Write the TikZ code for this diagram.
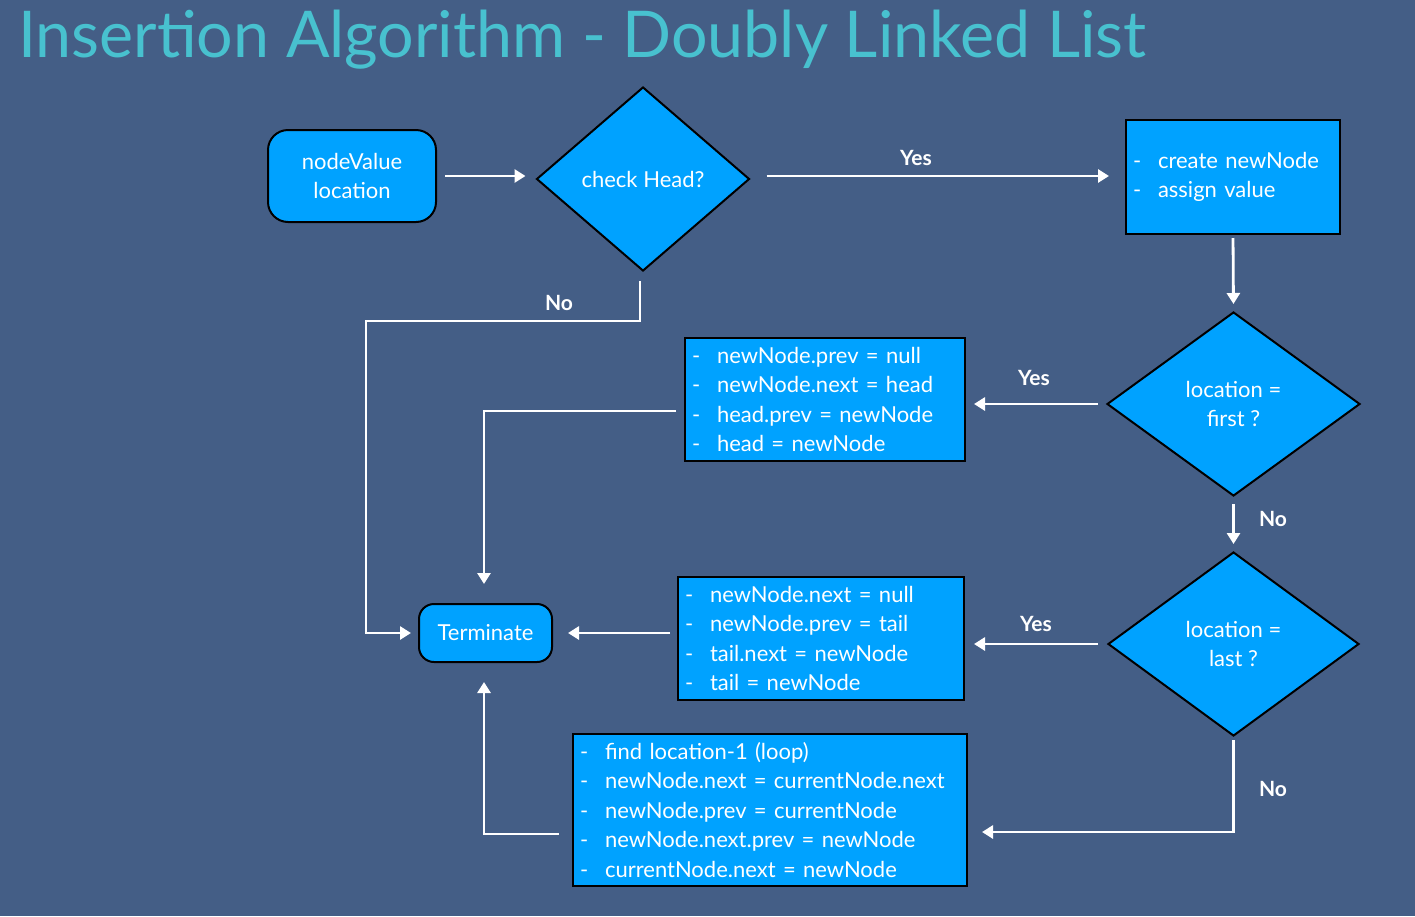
\documentclass[tikz,border=0pt]{standalone}
\usepackage{fontspec}
\setmainfont{Lato}
\usetikzlibrary{shapes.geometric,arrows.meta}
\definecolor{bg}{RGB}{68,94,134}
\definecolor{boxblue}{RGB}{0,162,255}
\definecolor{titlec}{RGB}{72,193,207}
\newcommand\dashitem{\makebox[25pt][l]{-}}
\begin{document}
\begin{tikzpicture}[x=1pt,y=-1pt,
 every node/.style={font=\fontsize{22}{29.5}\selectfont, text=white},
 roundbox/.style={draw=black, line width=2pt, fill=boxblue, align=center},
 dia/.style={diamond, draw=black, line width=2pt, fill=boxblue, inner sep=0pt, align=center},
 listbox/.style={draw=black, line width=2pt, fill=boxblue, inner xsep=7pt, inner ysep=0pt, align=left},
 arr/.style={draw=white, line width=2.8pt, -{Triangle[length=11pt,width=13pt]}},
 lab/.style={font=\bfseries\fontsize{21}{25}\selectfont}
]
\fill[bg] (0,0) rectangle (1415,916);
\node[anchor=base west, text=titlec, font=\fontsize{64.5}{70}\selectfont, inner sep=0pt] (title) at (18,57) {Insertion Algorithm - Doubly Linked List};

\node[roundbox, rounded corners=20pt, minimum width=168pt, minimum height=92pt] (input) at (352,176) {nodeValue\\location};
\node[dia, minimum width=213pt, minimum height=184pt] (check) at (643,179) {check Head?};
\node[listbox, text width=200pt, minimum height=114pt] (create) at (1233,177) {\dashitem create newNode\\\dashitem assign value};
\node[dia, minimum width=253pt, minimum height=184pt] (first) at (1233.5,404) {location =\\first ?};
\node[listbox, text width=266pt, minimum height=123pt] (headbox) at (825,399.5) {\dashitem newNode.prev = null\\\dashitem newNode.next = head\\\dashitem head.prev = newNode\\\dashitem head = newNode};
\node[roundbox, rounded corners=15pt, minimum width=133pt, minimum height=58pt] (term) at (485.5,633) {Terminate};
\node[dia, minimum width=251pt, minimum height=184pt] (last) at (1233.5,644) {location =\\last ?};
\node[listbox, text width=272pt, minimum height=123pt] (tailbox) at (821,638.5) {\dashitem newNode.next = null\\\dashitem newNode.prev = tail\\\dashitem tail.next = newNode\\\dashitem tail = newNode};
\node[listbox, text width=380pt, minimum height=152pt] (loopbox) at (770,810) {\dashitem find location-1 (loop)\\\dashitem newNode.next = currentNode.next\\\dashitem newNode.prev = currentNode\\\dashitem newNode.next.prev = newNode\\\dashitem currentNode.next = newNode};

% labels
\node[lab] (yes1) at (916,158) {Yes};
\node[lab] (no1) at (559,303) {No};
\node[lab] (yes2) at (1034,378) {Yes};
\node[lab] (no2) at (1273,519) {No};
\node[lab] (yes3) at (1036,624) {Yes};
\node[lab] (no3) at (1273,789) {No};

% connectors
\draw[arr, shorten <=8pt, shorten >=10pt] (input.east) -- (input.east -| check.west);
\draw[arr, shorten <=16pt, shorten >=16pt] (check.east |- 0,176) -- (create.west |- 0,176);
\draw[arr, shorten <=3pt, shorten >=7pt] (create.south) -- (first.north);
\draw[arr, shorten <=8pt, shorten >=8pt] (first.west) -- (first.west -| headbox.east);
\draw[arr, shorten <=7pt, shorten >=7pt] (first.south) -- (last.north);
\draw[arr, shorten <=9pt, shorten >=9pt] (last.west) -- (last.west -| tailbox.east);
\draw[arr, shorten >=7pt] ([xshift=-3pt,yshift=-9pt]check.south) |- (366,321) |- (term.west);
\draw[arr] ([xshift=-8pt,yshift=-11.5pt]headbox.west) -| ([xshift=-1.5pt,yshift=19pt]term.north);
\draw[arr, shorten <=7pt, shorten >=15pt] (tailbox.west |- term.east) -- (term.east);
\draw[arr] ([xshift=-13pt,yshift=-24pt]loopbox.west) -| ([xshift=-1.5pt,yshift=-19pt]term.south);
\draw[arr] ([yshift=-3pt]last.south) |- ([xshift=14pt,yshift=-22pt]loopbox.east);
\end{tikzpicture}
\end{document}
